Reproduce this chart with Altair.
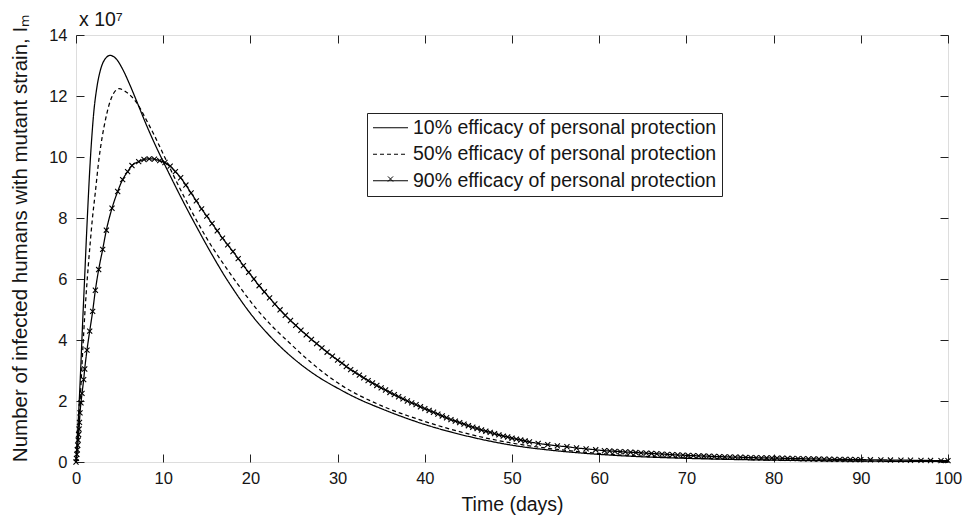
import altair as alt
import pandas as pd

# ---- data (values in units of 1e7) ----
labels = [
    "10% efficacy of personal protection",
    "50% efficacy of personal protection",
    "90% efficacy of personal protection",
]

t10 = [0, 0.25, 0.5, 0.75, 1.0, 1.2, 1.4, 1.6, 1.8, 2.05, 2.35, 2.8, 3.3, 3.9, 4.6,
       5.4, 6.2, 7.0, 8.0, 9.0, 10.0, 11.0, 12.0, 13.0, 14.0, 15.0, 16.0, 17.0, 18.0,
       19.0, 20.0, 22.0, 24.0, 26.0, 28.0, 30.0, 32.0, 35.0, 40.0, 45.0, 50.0, 55.0,
       60.0, 65.0, 70.0, 80.0, 90.0, 100.0]
v10 = [0, 1.3, 2.8, 4.5, 6.1, 7.4, 8.6, 9.7, 10.6, 11.5, 12.2, 12.85, 13.2, 13.33, 13.22,
       12.85, 12.35, 11.8, 11.1, 10.45, 9.85, 9.27, 8.7, 8.15, 7.62, 7.1, 6.6, 6.12, 5.68,
       5.26, 4.87, 4.2, 3.63, 3.15, 2.75, 2.42, 2.12, 1.75, 1.23, 0.84, 0.55, 0.37,
       0.25, 0.17, 0.12, 0.06, 0.03, 0.015]

t50 = [0, 0.2, 0.4, 0.6, 0.8, 1.0, 1.2, 1.4, 1.65, 1.87, 2.2, 2.64, 3.0, 3.4, 3.78,
       4.3, 4.93, 5.8, 6.96, 8.0, 9.0, 10.0, 11.0, 12.0, 13.0, 14.0, 15.0, 16.9, 18.5,
       20.7, 22.5, 24.5, 27.0, 30.3, 35.0, 40.0, 45.0, 50.0, 55.0, 60.0, 65.0, 70.0,
       80.0, 90.0, 100.0]
v50 = [0, 0.7, 1.6, 2.7, 3.8, 4.8, 5.65, 6.4, 7.25, 7.95, 8.8, 9.95, 10.65, 11.25, 11.7,
       12.08, 12.24, 12.12, 11.78, 11.25, 10.7, 10.1, 9.5, 8.92, 8.36, 7.83, 7.33, 6.5, 5.85,
       5.02, 4.45, 3.9, 3.25, 2.54, 1.85, 1.33, 0.92, 0.62, 0.42, 0.28, 0.19, 0.135,
       0.068, 0.034, 0.017]

t90 = [0, 0.05, 0.1, 0.15, 0.2, 0.25, 0.3, 0.35, 0.4, 0.46, 0.57, 0.69, 0.88, 1.0,
       1.26, 1.57, 1.91, 2.22, 2.6, 3.06, 3.48, 4.13, 4.78, 5.35, 5.92, 6.42, 7.19,
       7.8, 8.4, 9.0, 9.6, 10.2, 10.8, 11.4, 12.0, 12.6, 13.2, 13.8, 14.4, 15.0,
       15.6, 16.2, 16.8, 17.4, 18.0, 18.6, 19.2, 19.8, 20.4, 21.0, 21.6, 22.2, 22.8,
       23.4, 24.0, 24.6, 25.2, 25.8, 26.4, 27.0, 27.6, 28.2, 28.8, 29.4, 30.0, 30.5,
       31.0, 31.5, 32.0, 32.5, 33.0, 33.5, 34.0, 34.5, 35.0, 35.5, 36.0, 36.5, 37.0,
       37.5, 38.0, 38.5, 39.0, 39.5, 40.0, 40.5, 41.0, 41.5, 42.0, 42.5, 43.0, 43.5,
       44.0, 44.5, 45.0, 45.5, 46.0, 46.5, 47.0, 47.5, 48.0, 48.5, 49.0, 49.5, 50.0,
       50.5, 51.0, 51.5, 52.0, 53.0, 54.1, 55.2, 56.3, 57.4, 58.5, 59.6, 60.6, 61.2,
       61.8, 62.4, 63.0, 63.6, 64.2, 64.8, 65.4, 66.0, 66.6, 67.2, 67.8, 68.4, 69.0,
       69.6, 70.2, 70.8, 71.4, 72.0, 72.6, 73.2, 73.8, 74.4, 75.0, 75.6, 76.2, 76.8,
       77.4, 78.0, 78.6, 79.2, 79.8, 80.4, 81.0, 81.6, 82.2, 82.8, 83.4, 84.0, 84.6,
       85.2, 85.8, 86.4, 87.0, 87.6, 88.2, 88.8, 89.4, 90.0, 91.1, 92.3, 93.4, 94.6,
       95.7, 96.9, 98.0, 99.2, 100.0]
v90 = [0, 0.12, 0.25, 0.4, 0.55, 0.72, 0.9, 1.08, 1.3, 1.61, 1.94, 2.25, 2.7, 3.05,
       3.67, 4.29, 4.94, 5.63, 6.31, 6.97, 7.6, 8.32, 8.87, 9.26, 9.52, 9.72, 9.85,
       9.92, 9.94, 9.93, 9.88, 9.82, 9.7, 9.52, 9.32, 9.08, 8.82, 8.56, 8.3, 8.06,
       7.82, 7.58, 7.34, 7.12, 6.9, 6.67, 6.44, 6.22, 6.0, 5.78, 5.58, 5.38, 5.18,
       4.99, 4.81, 4.64, 4.48, 4.32, 4.17, 4.02, 3.88, 3.74, 3.6, 3.47, 3.34, 3.24,
       3.13, 3.03, 2.94, 2.85, 2.76, 2.67, 2.59, 2.51, 2.43, 2.36, 2.28, 2.21, 2.14,
       2.07, 2.0, 1.94, 1.88, 1.81, 1.75, 1.69, 1.63, 1.57, 1.51, 1.45, 1.39, 1.34,
       1.29, 1.24, 1.19, 1.14, 1.1, 1.05, 1.01, 0.97, 0.93, 0.89, 0.85, 0.82, 0.78,
       0.75, 0.72, 0.69, 0.66, 0.61, 0.57, 0.53, 0.5, 0.46, 0.43, 0.4, 0.37, 0.36,
       0.35, 0.34, 0.33, 0.32, 0.31, 0.30, 0.29, 0.28, 0.27, 0.26, 0.25, 0.24, 0.23,
       0.225, 0.215, 0.21, 0.2, 0.195, 0.19, 0.18, 0.175, 0.17, 0.165, 0.16, 0.155, 0.15,
       0.145, 0.14, 0.137, 0.133, 0.13, 0.126, 0.122, 0.118, 0.114, 0.11, 0.106, 0.103, 0.1,
       0.097, 0.094, 0.091, 0.088, 0.086, 0.083, 0.081, 0.078, 0.076, 0.072, 0.068, 0.064, 0.06,
       0.057, 0.053, 0.05, 0.047, 0.045]

x_ticks = list(range(0, 101, 10))
y_ticks = list(range(0, 15, 2))

rows = []
for name, ts, vs in zip(labels, [t10, t50, t90], [v10, v50, v90]):
    for t, v in zip(ts, vs):
        rows.append({"series": name, "t": t, "v": v})
df = pd.DataFrame(rows)
df90 = pd.DataFrame({"marker": [labels[2]] * len(t90), "t": t90, "v": v90})

W, H = 872, 427
TICK = 8
FONT = "Liberation Sans"
TXT = "#151515"

x_scale = alt.Scale(domain=[0, 100], nice=False, zero=False)
y_scale = alt.Scale(domain=[0, 14], nice=False)

x_axis = alt.Axis(values=x_ticks, title="Time (days)", labelFontSize=16.5, titleFontSize=19.5,
                  titleFontWeight="normal", labelFont=FONT, titleFont=FONT,
                  labelColor=TXT, titleColor=TXT, ticks=False, domain=False,
                  grid=True, gridColor="#222", gridOpacity=1, gridWidth=1,
                  gridDash=[TICK, H - 2 * TICK, TICK, 2000], labelPadding=8,
                  titlePadding=9, labelFlush=False)
y_axis = alt.Axis(values=y_ticks, title="Number of infected humans with mutant strain, Iₘ",
                  labelFontSize=16.5, titleFontSize=20.5, titleFontWeight="normal",
                  labelFont=FONT, titleFont=FONT, labelColor=TXT, titleColor=TXT,
                  ticks=False, domain=False, grid=True, gridColor="#222", gridOpacity=1,
                  gridWidth=1, gridDash=[TICK, W - 2 * TICK, TICK, 2000], labelPadding=9,
                  titleAngle=270, titleAlign="center", titleBaseline="middle",
                  titleX=-56, titleY=203, labelFlush=False)

line_path = "M-1,0L3,0"
x_shape = "M-1,-1L1,1M-1,1L1,-1"

legend = alt.Legend(
    title=None, orient="none", legendX=291, legendY=78,
    labelFontSize=19.5, labelFont=FONT, labelColor=TXT, labelLimit=0,
    symbolType=line_path, symbolSize=306, symbolStrokeWidth=1.2,
    symbolStrokeColor="black", symbolFillColor="transparent",
    labelOffset=21.5, rowPadding=5.5, padding=5,
    strokeColor="#222", fillColor="white",
)

# second legend: only the "x" marker, laid over the third legend entry
marker_legend = alt.Legend(
    title=None, orient="none", legendX=311, legendY=140.5,
    labelExpr="''", labelFontSize=1, symbolSize=26, symbolStrokeWidth=1,
    symbolStrokeColor="black", symbolFillColor="transparent", padding=0,
    zindex=5,
)

lines = alt.Chart(df).mark_line(color="black", strokeWidth=1.25, interpolate="monotone").encode(
    x=alt.X("t:Q", scale=x_scale, axis=x_axis),
    y=alt.Y("v:Q", scale=y_scale, axis=y_axis),
    strokeDash=alt.StrokeDash("series:N", scale=alt.Scale(domain=labels,
                              range=[[1, 0], [4, 3], [1, 0]]), legend=legend),
    order="t:Q",
)

points = alt.Chart(df90).mark_point(size=26, filled=False, color="black",
                                    strokeWidth=1.1, opacity=1).encode(
    x=alt.X("t:Q", scale=x_scale),
    y=alt.Y("v:Q", scale=y_scale),
    shape=alt.Shape("marker:N", scale=alt.Scale(domain=[labels[2]], range=[x_shape]),
                    legend=marker_legend),
)

chart = alt.layer(lines, points).properties(
    width=W, height=H,
    autosize=alt.AutoSizeParams(type="none"),
    padding={"left": 76, "top": 35, "right": 32, "bottom": 60},
    title=alt.TitleParams("x 10⁷", anchor="start", frame="group", fontSize=19.5,
                          font=FONT, fontWeight="normal", color=TXT, offset=6, dx=3,
                          dy=22),
).resolve_legend(strokeDash="independent", shape="independent").configure_view(
    stroke="#222", strokeWidth=1).configure(background="white")

chart.save("out.html", embed_options={"renderer": "svg", "actions": False})
